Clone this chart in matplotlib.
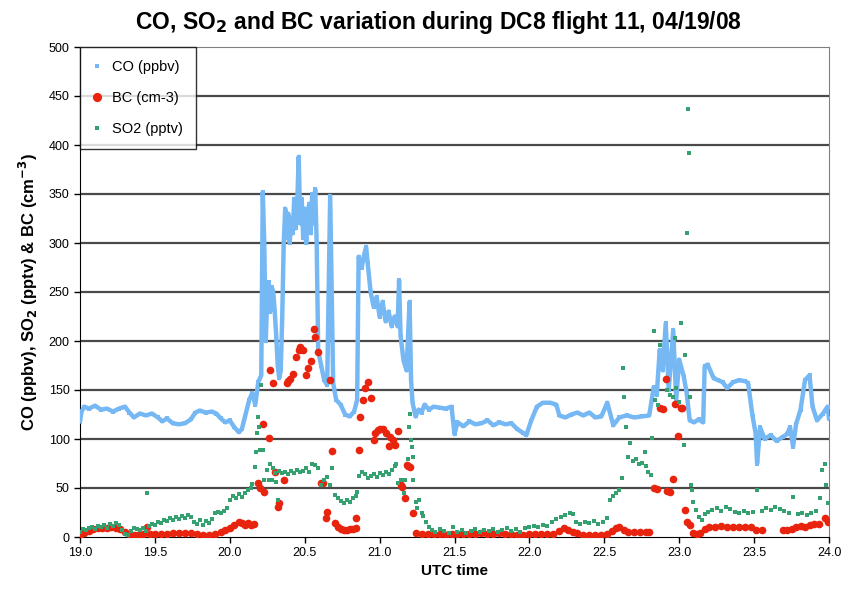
import numpy as np
import matplotlib
matplotlib.use('Agg')
import matplotlib.pyplot as plt

plt.rcParams['font.family'] = ['Liberation Sans', 'DejaVu Sans']

# CO (ppbv) - tempo UTC e valor
co_t = [19.00, 19.01, 19.03, 19.06, 19.10, 19.14, 19.18, 19.22, 19.26, 19.30,
        19.33, 19.36, 19.40, 19.44, 19.48, 19.52, 19.55, 19.58, 19.62, 19.66,
        19.70, 19.74, 19.77, 19.80, 19.84, 19.88, 19.91, 19.94, 19.97, 20.00,
        20.03, 20.06, 20.08, 20.10, 20.13, 20.15, 20.17, 20.19, 20.21, 20.22,
        20.23, 20.24, 20.25, 20.26, 20.27, 20.28, 20.29, 20.30, 20.31, 20.32,
        20.33, 20.34, 20.35, 20.36, 20.37, 20.38, 20.39, 20.40, 20.41, 20.42,
        20.43, 20.44, 20.45, 20.46, 20.47, 20.48, 20.49, 20.50, 20.51, 20.52,
        20.53, 20.54, 20.55, 20.56, 20.57, 20.58, 20.59, 20.61, 20.63,
        20.65, 20.67, 20.68, 20.69, 20.71, 20.74, 20.77, 20.80, 20.83, 20.85,
        20.86, 20.88, 20.90, 20.91, 20.92, 20.94, 20.96, 20.98, 21.00, 21.02,
        21.04, 21.06, 21.08, 21.10, 21.12, 21.13, 21.14, 21.16, 21.18, 21.20,
        21.21, 21.22, 21.24, 21.26, 21.28, 21.30, 21.33, 21.36, 21.40, 21.44,
        21.48, 21.50, 21.52, 21.56, 21.60, 21.64, 21.68, 21.72, 21.76, 21.80,
        21.84, 21.88, 21.92, 21.96, 21.98, 22.01, 22.05, 22.09, 22.14, 22.18,
        22.20, 22.24, 22.28, 22.32, 22.36, 22.40, 22.44, 22.48, 22.52, 22.56,
        22.60, 22.65, 22.70, 22.75, 22.80, 22.83, 22.85, 22.87, 22.89, 22.91,
        22.93, 22.96, 22.98, 23.00, 23.03, 23.05, 23.07, 23.10, 23.13, 23.16,
        23.17, 23.19, 23.23, 23.26, 23.29, 23.32, 23.36, 23.40, 23.44, 23.46,
        23.49, 23.51, 23.52, 23.54, 23.57, 23.61, 23.65, 23.69, 23.72, 23.74,
        23.76, 23.78, 23.81, 23.84, 23.87, 23.89, 23.92, 23.96, 23.99, 24.00]
co_v = [118, 128, 133, 131, 134, 130, 131, 128, 131, 133,
        127, 122, 126, 124, 126, 122, 118, 121, 116, 115,
        116, 120, 127, 129, 127, 128, 126, 121, 117, 119,
        112, 107, 110, 122, 140, 147, 135, 158, 165, 352,
        300, 200, 245, 260, 230, 255, 250, 230, 205, 175,
        162, 170, 225, 300, 335, 305, 330, 300, 325, 310,
        345, 315, 340, 388, 320, 345, 305, 335, 300, 330,
        340, 310, 350, 320, 355, 300, 190, 175, 160,
        155, 348, 250, 157, 140, 135, 125, 123, 128, 140,
        286, 275, 290, 296, 280, 250, 235, 245, 225, 240,
        220, 230, 215, 225, 215, 262, 205, 180, 170, 240,
        160, 137, 123, 130, 127, 135, 130, 133, 132, 131,
        133, 105, 117, 113, 118, 115, 116, 119, 114, 117,
        115, 116, 110, 106, 104, 118, 133, 137, 137, 135,
        124, 122, 125, 127, 124, 127, 122, 123, 137, 114,
        122, 124, 122, 123, 124, 153, 145, 191, 170, 218,
        150, 211, 140, 181, 164, 147, 119, 117, 120, 117,
        174, 176, 162, 160, 158, 152, 158, 160, 159, 157,
        123, 106, 75, 112, 100, 104, 98, 102, 105, 112,
        92, 115, 130, 160, 165, 133, 119, 126, 133, 121]

# BC (cm-3)
bc_t = [19.00, 19.03, 19.06, 19.09, 19.12, 19.15, 19.18, 19.21, 19.24, 19.27,
        19.30, 19.33, 19.36, 19.39, 19.42, 19.45, 19.47, 19.50, 19.54, 19.58,
        19.62, 19.66, 19.70, 19.74, 19.78, 19.82, 19.86, 19.90, 19.94, 19.97,
        20.00, 20.03, 20.06, 20.08, 20.10, 20.12, 20.14, 20.16,
        20.19, 20.20, 20.22, 20.23, 20.26, 20.27, 20.29, 20.30, 20.32, 20.33,
        20.36, 20.38, 20.39, 20.40, 20.42, 20.44, 20.46, 20.47, 20.49, 20.51,
        20.52, 20.54, 20.56, 20.57, 20.59, 20.61, 20.62, 20.64, 20.65, 20.67,
        20.68, 20.70, 20.72, 20.74, 20.76, 20.78, 20.80, 20.82, 20.84,
        20.845, 20.86, 20.87, 20.89, 20.90, 20.92, 20.94, 20.96, 20.97, 20.99,
        21.00, 21.02, 21.04, 21.06, 21.07, 21.09, 21.10, 21.12, 21.14, 21.15,
        21.17, 21.18, 21.19, 21.20, 21.22,
        21.24, 21.28, 21.32, 21.36, 21.40, 21.44, 21.48, 21.52, 21.56, 21.60,
        21.64, 21.68, 21.72, 21.76, 21.80, 21.84, 21.88, 21.92, 21.96, 22.00,
        22.04, 22.08, 22.12, 22.16, 22.20, 22.23, 22.26, 22.29, 22.32, 22.36,
        22.40, 22.44, 22.48, 22.52, 22.55, 22.58, 22.60, 22.63, 22.66, 22.70,
        22.74, 22.78, 22.80,
        22.83, 22.85, 22.87, 22.89, 22.91, 22.92, 22.94, 22.96, 22.97, 22.99,
        23.01, 23.02, 23.04, 23.05, 23.07,
        23.09, 23.12, 23.14, 23.17, 23.20, 23.24, 23.28, 23.32, 23.36, 23.40,
        23.44, 23.48, 23.51, 23.55, 23.69, 23.72, 23.75, 23.78, 23.81, 23.84,
        23.87, 23.90, 23.93, 23.97, 23.99]
bc_v = [2, 4, 6, 8, 9, 9, 9, 10, 9, 8,
        5, 3, 2, 2, 3, 10, 3, 3, 3, 3,
        4, 4, 4, 4, 3, 2, 2, 3, 5, 7,
        9, 12, 15, 14, 12, 14, 12, 13,
        55, 50, 115, 46, 101, 170, 157, 66, 31, 35,
        58, 157, 159, 161, 166, 184, 191, 194, 191, 165,
        172, 180, 212, 204, 189, 55, 55, 19, 26, 160,
        88, 14, 10, 8, 7, 7, 8, 8, 9,
        19, 89, 122, 140, 152, 158, 142, 99, 106, 109,
        110, 110, 106, 93, 102, 99, 94, 108, 53, 51,
        40, 73, 72, 71, 24,
        4, 3, 3, 3, 3, 2, 3, 3, 3, 3,
        3, 4, 3, 3, 4, 3, 3, 2, 2, 3,
        3, 3, 3, 3, 6, 9, 7, 5, 4, 2,
        2, 2, 2, 3, 6, 9, 10, 7, 5, 5,
        5, 5, 5,
        50, 49, 132, 131, 161, 47, 46, 59, 136, 103,
        132, 132, 28, 15, 12,
        4, 3, 4, 8, 10, 10, 11, 10, 10, 10,
        10, 10, 7, 7, 7, 7, 8, 10, 11, 10,
        12, 13, 13, 19, 15]

# SO2 (pptv)
so2_t = [19.00, 19.02, 19.04, 19.06, 19.08, 19.10, 19.12, 19.14, 19.16, 19.18,
         19.20, 19.22, 19.24, 19.26, 19.28, 19.30, 19.32, 19.34, 19.36, 19.38,
         19.40, 19.42, 19.44, 19.45, 19.46, 19.48, 19.50, 19.52, 19.54, 19.56,
         19.58, 19.60, 19.62, 19.64, 19.66, 19.68, 19.70, 19.72, 19.74, 19.76,
         19.78, 19.80, 19.82, 19.84, 19.86, 19.88, 19.90, 19.92, 19.94, 19.96,
         19.98, 20.00, 20.02, 20.04, 20.06, 20.08, 20.10, 20.12, 20.14, 20.15,
         20.17, 20.175, 20.18, 20.19, 20.195, 20.20, 20.21, 20.22, 20.23, 20.25,
         20.26, 20.27, 20.28, 20.29, 20.30, 20.31, 20.32, 20.33, 20.35, 20.37,
         20.39, 20.41, 20.43, 20.45, 20.47, 20.49, 20.51, 20.53, 20.55, 20.57,
         20.59, 20.61, 20.63, 20.65, 20.67, 20.68, 20.70, 20.72, 20.74, 20.76,
         20.78, 20.80, 20.82, 20.84, 20.85, 20.86, 20.88, 20.90, 20.92, 20.94,
         20.96, 20.98, 21.00, 21.02, 21.04, 21.06, 21.08, 21.10, 21.11, 21.12,
         21.14, 21.16, 21.17, 21.19, 21.195, 21.20, 21.21, 21.215, 21.22, 21.225,
         21.24, 21.25, 21.26, 21.28, 21.29, 21.31, 21.33, 21.35, 21.37, 21.40,
         21.43, 21.46, 21.49, 21.52, 21.55, 21.58, 21.61, 21.64, 21.67, 21.70,
         21.73, 21.76, 21.79, 21.82, 21.85, 21.88, 21.91, 21.94, 21.97, 22.00,
         22.03, 22.06, 22.09, 22.12, 22.15, 22.18, 22.21, 22.24, 22.27, 22.29,
         22.31, 22.34, 22.37, 22.40, 22.43, 22.46, 22.49, 22.52, 22.54, 22.56,
         22.58, 22.60, 22.62, 22.625, 22.63, 22.645, 22.66, 22.67, 22.69, 22.71,
         22.73, 22.75, 22.77, 22.78, 22.79, 22.81, 22.82, 22.83, 22.84, 22.86,
         22.87, 22.92, 22.94, 22.96, 22.97, 22.98, 23.00, 23.01, 23.03, 23.04,
         23.055, 23.06, 23.065, 23.07, 23.08, 23.085, 23.09, 23.11, 23.13, 23.15,
         23.17, 23.19, 23.22, 23.25, 23.28, 23.31, 23.34, 23.37, 23.40, 23.43,
         23.46, 23.49, 23.52, 23.55, 23.58, 23.61, 23.64, 23.67, 23.70, 23.73,
         23.76, 23.79, 23.82, 23.85, 23.88, 23.91, 23.94, 23.955, 23.97, 23.98,
         23.99]
so2_v = [5, 8, 7, 9, 10, 8, 11, 10, 12, 9,
         13, 11, 14, 12, 7, 3, 2, 6, 9, 8,
         7, 9, 6, 45, 11, 13, 12, 15, 14, 17,
         16, 19, 17, 20, 18, 21, 19, 22, 20, 15,
         13, 17, 12, 16, 14, 18, 24, 26, 24, 27,
         30, 38, 42, 40, 44, 41, 45, 48, 50, 54,
         71, 87, 106, 122, 112, 89, 155, 89, 58, 68,
         58, 75, 58, 70, 65, 56, 38, 67, 65, 66,
         64, 67, 65, 68, 66, 67, 70, 66, 75, 73,
         70, 53, 58, 61, 53, 70, 43, 40, 37, 35,
         38, 36, 40, 42, 46, 62, 66, 64, 60, 62,
         64, 61, 65, 63, 66, 64, 68, 72, 75, 55,
         58, 45, 58, 80, 112, 126, 99, 92, 82, 58,
         36, 30, 38, 24, 21, 15, 10, 7, 5, 8,
         6, 4, 10, 5, 7, 4, 6, 8, 5, 7,
         6, 8, 5, 7, 9, 6, 8, 5, 9, 10,
         11, 10, 12, 11, 15, 18, 20, 22, 24, 23,
         15, 13, 15, 14, 16, 13, 15, 19, 38, 42,
         45, 48, 60, 172, 143, 112, 82, 96, 78, 80,
         74, 76, 87, 72, 66, 63, 101, 210, 140, 135,
         196, 150, 145, 143, 203, 152, 138, 218, 94, 186,
         310, 437, 392, 143, 53, 48, 36, 28, 20, 17,
         23, 26, 28, 30, 27, 31, 29, 26, 24, 27,
         25, 26, 48, 27, 30, 28, 31, 29, 27, 25,
         41, 23, 25, 22, 24, 27, 40, 68, 75, 53,
         35]

x_ticks = np.arange(19.0, 24.01, 0.5)
y_ticks = np.arange(0, 501, 50)

fig = plt.figure(figsize=(8.45, 5.92), dpi=100)
ax = fig.add_axes([80/845, 55/592, 749/845, 490/592])

cor_co = '#76B8F4'
cor_bc = '#E8230E'
cor_so2 = '#35A070'

ax.plot(co_t, co_v, '-', color=cor_co, lw=3.2, zorder=3)
ax.plot(co_t, co_v, 's', color=cor_co, ms=2.5, mew=0, zorder=3, label='CO (ppbv)')
ax.plot(bc_t, bc_v, 'o', color=cor_bc, ms=5.5, mew=0, zorder=4, label='BC (cm-3)')
ax.plot(so2_t, so2_v, 's', color=cor_so2, ms=3, mew=0, zorder=5, label='SO2 (pptv)')

# grade horizontal
for yv in y_ticks[1:-1]:
    ax.axhline(yv, color='#4a4a4a', lw=1.6, zorder=1)

ax.set_xlim(19, 24)
ax.set_ylim(0, 500)
ax.set_xticks(x_ticks)
ax.set_xticklabels([f'{v:.1f}' for v in x_ticks])
ax.set_yticks(y_ticks)
ax.tick_params(axis='both', labelsize=9, direction='out', length=4, width=1)

ax.spines['left'].set_color('black')
ax.spines['bottom'].set_color('black')
ax.spines['top'].set_color('#808080')
ax.spines['right'].set_color('#808080')

ax.set_xlabel('UTC time', fontsize=11, fontweight='bold', labelpad=3)
ax.set_ylabel('CO (ppbv), SO$_\\mathbf{2}$ (pptv) & BC (cm$^\\mathbf{-3}$)', fontsize=12,
              fontweight='bold', labelpad=6)

leg = ax.legend(loc='upper left', bbox_to_anchor=(0, 1), fontsize=10.5, frameon=True,
                fancybox=False, edgecolor='black', borderaxespad=0, markerscale=1.2,
                handlelength=0.6, handletextpad=0.7, labelspacing=1.15, borderpad=0.9)
leg.get_frame().set_linewidth(1.0)

fig.text(438/845, 1 - 22/592, 'CO, SO$_\\mathbf{2}$ and BC variation during DC8 flight 11, 04/19/08',
         ha='center', va='center', fontsize=16.5, fontweight='bold')

fig.savefig('out.png', dpi=100)
